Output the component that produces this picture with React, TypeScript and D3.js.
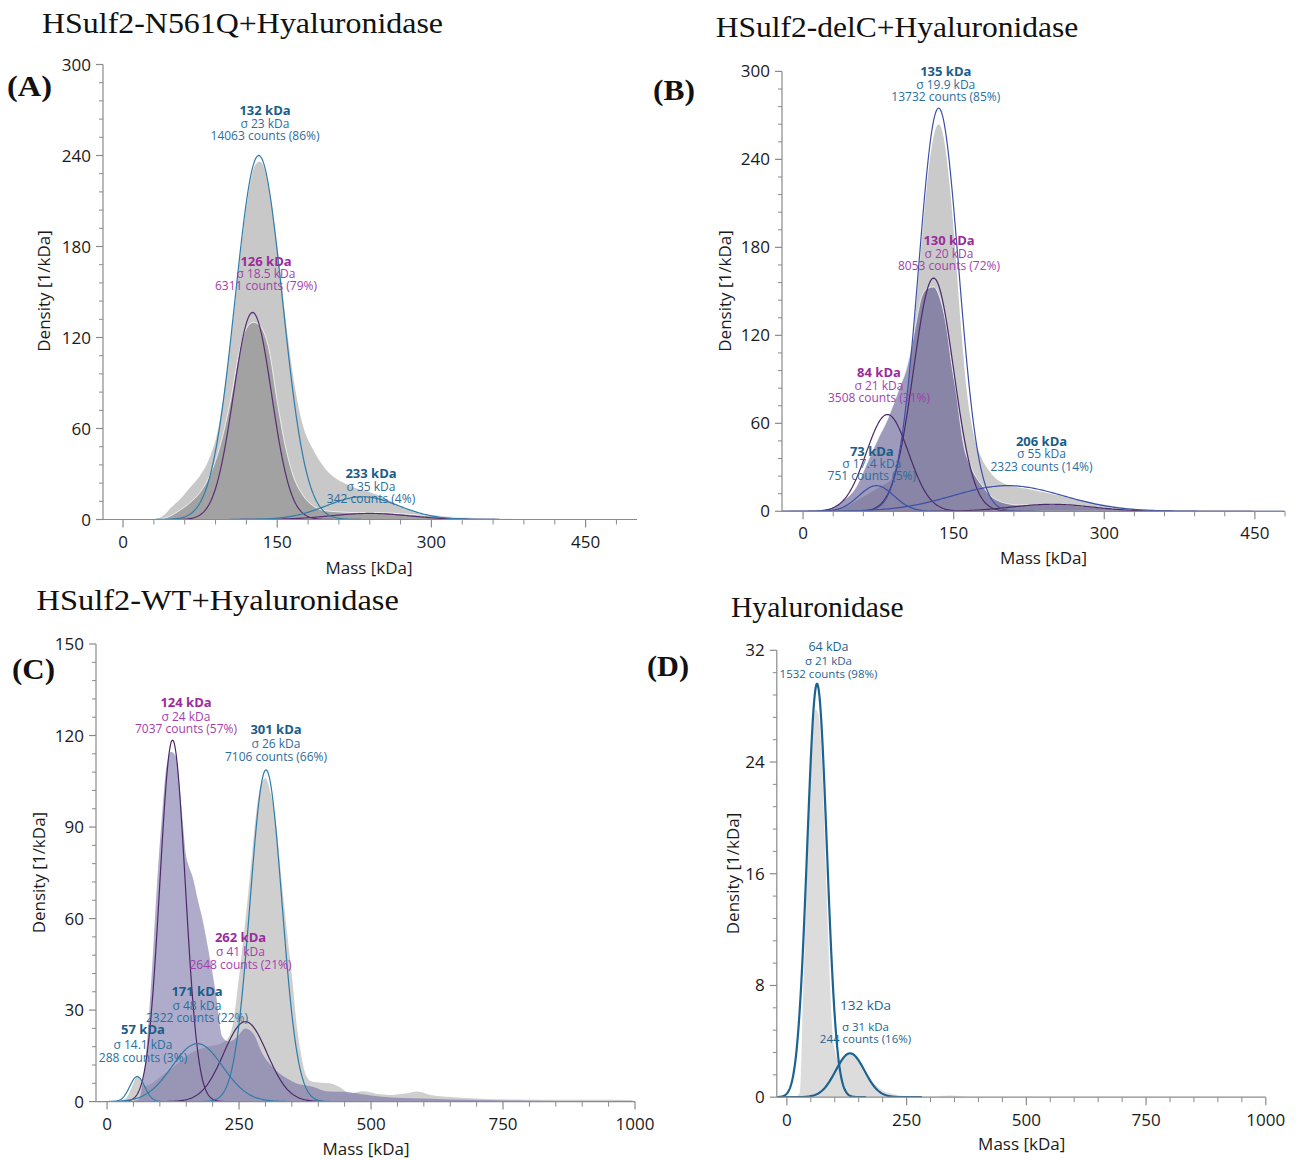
import React from 'react';
import * as d3 from 'd3';

// ---------------- data ----------------
const panelTitles = ['HSulf2-N561Q+Hyaluronidase', 'HSulf2-delC+Hyaluronidase', 'HSulf2-WT+Hyaluronidase', 'Hyaluronidase'];
const panelLetters = ['(A)', '(B)', '(C)', '(D)'];

const xTicksAB = [0, 150, 300, 450];
const yTicksAB = [0, 60, 120, 180, 240, 300];
const xTicksCD = [0, 250, 500, 750, 1000];
const yTicksC = [0, 30, 60, 90, 120, 150];
const yTicksD = [0, 8, 16, 24, 32];

// histograms: [mass kDa, density 1/kDa]
const histA_light: [number, number][] = [
  [25, 0], [33, 0.5], [40, 3], [47, 8], [55, 13], [65, 21], [75, 29], [85, 42], [92, 58], [100, 92], [107, 130],
  [115, 180], [122, 215], [128, 233], [133, 236], [138, 230], [145, 205], [152, 170], [160, 122], [167, 88], [175, 62],
  [185, 46], [195, 35], [205, 28], [215, 24], [225, 21], [240, 18], [255, 14], [270, 8.5], [285, 4.5], [300, 3],
  [320, 1.8], [345, 0.9], [380, 0.4], [420, 0],
];
const histA_dark: [number, number][] = [
  [35, 0], [45, 2], [55, 6], [65, 11], [75, 18], [85, 30], [95, 50], [105, 80], [113, 110], [120, 126], [127, 130],
  [134, 127], [142, 112], [150, 78], [158, 48], [166, 28], [175, 16], [185, 9], [195, 6], [210, 5], [230, 4.5],
  [250, 4.5], [270, 3.8], [290, 2.8], [310, 1.8], [340, 0.9], [380, 0.3], [420, 0],
];
const histB_gray: [number, number][] = [
  [15, 0], [30, 1], [45, 4], [58, 9], [70, 14], [80, 18], [88, 22], [96, 35], [103, 70], [110, 120], [117, 175],
  [123, 220], [129, 252], [135, 264], [140, 255], [146, 222], [151, 183], [157, 128], [163, 82], [170, 52], [178, 36],
  [186, 27], [200, 19], [220, 15.7], [240, 13], [260, 10], [285, 6.5], [305, 4], [325, 2], [350, 1], [390, 0.3], [430, 0],
];
const histB_purple: [number, number][] = [
  [10, 0], [20, 0.7], [30, 3], [40, 7.7], [48, 12], [54, 18], [60, 27], [67, 38], [75, 50], [83, 61], [90, 73],
  [97, 86], [102, 95], [108, 112], [113, 130], [118, 146], [124, 152], [130, 153], [136, 146], [143, 125], [148, 100],
  [153, 79], [157, 58], [160, 45], [166, 32], [173, 22.5], [180, 16], [186, 11], [195, 7], [205, 5], [215, 4.3],
  [230, 4.5], [250, 4.8], [270, 4], [290, 2.8], [305, 2], [330, 1], [360, 0.4], [400, 0],
];
const histC_gray: [number, number][] = [
  [20, 0], [35, 1], [45, 4], [52, 7], [58, 8.2], [64, 7], [70, 5], [80, 5.5], [100, 8], [130, 12], [160, 16], [190, 18],
  [215, 19], [230, 21], [240, 27], [248, 38], [256, 50], [266, 66], [275, 82], [282, 94], [290, 103], [300, 106],
  [310, 101], [320, 91], [332, 70], [345, 49], [352, 38], [358, 27], [367, 16], [377, 8.5], [389, 6.5], [405, 6.2],
  [421, 6], [441, 4.7], [460, 2.7], [486, 3.4], [510, 2.6], [536, 2.2], [568, 2.7], [587, 3.3], [612, 2.2], [650, 1.5],
  [707, 0.9], [770, 0.7], [865, 0.6], [928, 0.6], [991, 0.5], [1000, 0],
];
const histC_purple: [number, number][] = [
  [40, 0], [60, 0.8], [67, 6], [73, 14], [80, 30], [86, 46], [92, 64], [98, 80], [105, 96], [111, 108], [116, 113],
  [121, 114.7], [127, 114], [133, 110.9], [138, 102], [143, 92.3], [149, 81.4], [155, 77], [162, 73.7], [172, 66],
  [181, 59.5], [193, 48.6], [206, 35.5], [218, 21.3], [231, 19.6], [245, 21], [262, 24], [278, 22], [294, 15.8],
  [310, 12], [326, 9.3], [342, 7.5], [358, 6], [389, 4.9], [420, 3.3], [450, 3.2], [480, 2.5], [520, 1.6], [560, 1.2],
  [600, 1], [650, 0.7], [700, 0.5], [800, 0.3], [900, 0.2], [1000, 0],
];
const histD_gray: [number, number][] = [
  [15, 0], [26, 0.3], [33, 7.4], [40, 14.6], [47, 21.8], [54, 26.5], [60, 27.8], [66, 27.5], [72, 25.5], [78, 20.5],
  [84, 14.5], [89, 9.8], [95, 5.2], [102, 3.2], [110, 2.6], [120, 2.9], [134, 3.1], [145, 2.8], [158, 2], [172, 1.2],
  [185, 0.9], [199, 0.5], [216, 0.3], [250, 0.1], [300, 0.05], [340, 0.15], [380, 0],
];

// gaussian fits: [centre kDa, drawn width kDa, peak density]
const fitsA_blue: [number, number, number][] = [[132, 23, 240], [233, 35, 15]];
const fitsA_purple: [number, number, number][] = [[126, 18.5, 136.5], [240, 38, 4]];
const fitsB_blue: [number, number, number][] = [[135, 19.9, 275], [73, 17.4, 17.5], [204, 55, 17.5]];
const fitsB_purple: [number, number, number][] = [[84, 21, 66], [130, 20, 159], [248, 40, 4.8]];
const fitsC_blue: [number, number, number][] = [[57, 14.1, 8.2], [171, 48, 19], [301, 30, 108.7]];
const fitsC_purple: [number, number, number][] = [[124, 24, 118.5], [262, 41, 26.2]];
const fitsD_blue: [number, number, number][] = [[63, 20.5, 29.6], [132, 30, 3.14]];

// annotation texts
const labelsA = [
  { tone: 'blue', lines: ['132 kDa', 'σ 23 kDa', '14063 counts (86%)'] },
  { tone: 'purple', lines: ['126 kDa', 'σ 18.5 kDa', '6311 counts (79%)'] },
  { tone: 'blue', lines: ['233 kDa', 'σ 35 kDa', '342 counts (4%)'] },
];
const labelsB = [
  { tone: 'blue', lines: ['135 kDa', 'σ 19.9 kDa', '13732 counts (85%)'] },
  { tone: 'purple', lines: ['130 kDa', 'σ 20 kDa', '8053 counts (72%)'] },
  { tone: 'purple', lines: ['84 kDa', 'σ 21 kDa', '3508 counts (31%)'] },
  { tone: 'blue', lines: ['73 kDa', 'σ 17.4 kDa', '751 counts (5%)'] },
  { tone: 'blue', lines: ['206 kDa', 'σ 55 kDa', '2323 counts (14%)'] },
];
const labelsC = [
  { tone: 'purple', lines: ['124 kDa', 'σ 24 kDa', '7037 counts (57%)'] },
  { tone: 'blue', lines: ['301 kDa', 'σ 26 kDa', '7106 counts (66%)'] },
  { tone: 'purple', lines: ['262 kDa', 'σ 41 kDa', '2648 counts (21%)'] },
  { tone: 'blue', lines: ['171 kDa', 'σ 48 kDa', '2322 counts (22%)'] },
  { tone: 'blue', lines: ['57 kDa', 'σ 14.1 kDa', '288 counts (3%)'] },
];
const labelsD = [
  { tone: 'blueplain', lines: ['64 kDa', 'σ 21 kDa', '1532 counts (98%)'] },
  { tone: 'blueplain', lines: ['132 kDa', 'σ 31 kDa', '244 counts (16%)'] },
];

// ---------------- layout / style ----------------
const FONT = "'Open Sans', 'Noto Sans', sans-serif";
const SERIF = "'Liberation Serif', 'DejaVu Serif', serif";
const TXT_BLUE_B = '#1b5d8a';
const TXT_BLUE = '#2a6e9e';
const TXT_PURPLE_B = '#9a2c9c';
const TXT_PURPLE = '#a53eab';

type Fit = [number, number, number];
interface HistSpec { data: [number, number][]; fill: string; stroke?: string }
interface FitSpec { f: Fit; color: string; width: number }
interface LabelSpec { tone: string; lines: string[]; pos: number[] }

const panels = [
  {
    title: panelTitles[0], letter: panelLetters[0],
    titleX: 42, titleY: 33, titleW: 401, letterX: 7, letterY: 96, letterW: 45,
    xDomain: [-19.5, 500], xRange: [103, 637], yDomain: [0, 300], yRange: [519.5, 64.5],
    xTicks: xTicksAB, xMinor: 30, yTicks: yTicksAB, yMinor: 12,
    xTickY: 548, densX: 50, densY: 291, massX: 369, massY: 573.5,
    hists: [
      { data: histA_light, fill: '#c8c8c8' },
      { data: histA_dark, fill: 'rgba(100,100,100,0.38)', stroke: 'rgba(255,255,255,0.75)' },
    ] as HistSpec[],
    fits: [
      ...fitsA_purple.map((f) => ({ f, color: '#5a2e72', width: 1.2 })),
      ...fitsA_blue.map((f) => ({ f, color: '#2e7dab', width: 1.2 })),
    ] as FitSpec[],
    labels: labelsA.map((l, i) => ({ ...l, pos: [[265, 114.7, 127.6, 139.8], [266, 265.6, 278.2, 290.4], [371, 478.4, 490.8, 503.2]][i] })),
  },
  {
    title: panelTitles[1], letter: panelLetters[1],
    titleX: 715.7, titleY: 37, titleW: 362.6, letterX: 653, letterY: 100, letterW: 42,
    xDomain: [-21, 480], xRange: [782, 1285], yDomain: [0, 300], yRange: [511.3, 71.4],
    xTicks: xTicksAB, xMinor: 30, yTicks: yTicksAB, yMinor: 12,
    xTickY: 539, densX: 731, densY: 291, massX: 1043.5, massY: 564,
    hists: [
      { data: histB_gray, fill: '#cacaca' },
      { data: histB_purple, fill: 'rgba(92,86,142,0.6)', stroke: 'rgba(255,255,255,0.7)' },
    ] as HistSpec[],
    fits: [
      ...fitsB_purple.map((f) => ({ f, color: '#4c2a68', width: 1.2 })),
      ...fitsB_blue.map((f) => ({ f, color: '#3c50a8', width: 1.2 })),
    ] as FitSpec[],
    labels: labelsB.map((l, i) => ({ ...l, pos: [[945.8, 75.8, 88.8, 100.6], [949, 245.3, 257.9, 269.7], [879, 377.4, 389.6, 402], [871.8, 456.2, 468, 480.2], [1041.5, 445.8, 458, 470.6]][i] })),
  },
  {
    title: panelTitles[2], letter: panelLetters[2],
    titleX: 36.5, titleY: 610.3, titleW: 362.3, letterX: 12, letterY: 679, letterW: 43,
    xDomain: [-21, 1000], xRange: [96, 635], yDomain: [0, 150], yRange: [1101.6, 644],
    xTicks: xTicksCD, xMinor: 50, yTicks: yTicksC, yMinor: 6,
    xTickY: 1130, densX: 44.5, densY: 872.6, massX: 366, massY: 1155,
    hists: [
      { data: histC_gray, fill: '#cfcfcf' },
      { data: histC_purple, fill: 'rgba(110,104,160,0.55)' },
    ] as HistSpec[],
    fits: [
      ...fitsC_purple.map((f) => ({ f, color: '#4c2a68', width: 1.2 })),
      ...fitsC_blue.map((f) => ({ f, color: '#2c7ca8', width: 1.2 })),
    ] as FitSpec[],
    labels: labelsC.map((l, i) => ({ ...l, pos: [[186, 706.5, 721.3, 733.3], [276, 734.3, 748.3, 761.3], [240.5, 941.8, 956.2, 968.7], [197, 995.5, 1009.9, 1022.3], [143, 1034.3, 1049.1, 1061.7]][i] })),
  },
  {
    title: panelTitles[3], letter: panelLetters[3],
    titleX: 731, titleY: 617, titleW: 172.6, letterX: 647, letterY: 676, letterW: 42,
    xDomain: [-21, 1000], xRange: [776.8, 1265.8], yDomain: [0, 32], yRange: [1097.2, 650.3],
    xTicks: xTicksCD, xMinor: 50, yTicks: yTicksD, yMinor: 1.6,
    xTickY: 1126, densX: 739, densY: 873.5, massX: 1021.7, massY: 1150,
    hists: [{ data: histD_gray, fill: '#dcdcdc', stroke: 'rgba(255,255,255,0.8)' }] as HistSpec[],
    fits: fitsD_blue.map((f) => ({ f, color: '#1b6391', width: 2.2 })) as FitSpec[],
    labels: labelsD.map((l, i) => ({ ...l, pos: [[828.5, 651.4, 665.1, 677.7], [865.5, 1010.3, 1030.6, 1042.5]][i] })),
  },
];

function fitPoints(f: Fit, lo: number, hi: number): [number, number][] {
  const [mu, w, peak] = f;
  const a = Math.max(lo, mu - 5 * w);
  const b = Math.min(hi, mu + 5 * w);
  return d3.range(241).map((i) => {
    const m = a + ((b - a) * i) / 240;
    return [m, peak * Math.exp(-0.5 * ((m - mu) / w) ** 2)] as [number, number];
  });
}

function Panel({ p, idx }: { p: (typeof panels)[number]; idx: number }) {
  const x = d3.scaleLinear().domain(p.xDomain).range(p.xRange);
  const y = d3.scaleLinear().domain(p.yDomain).range(p.yRange);
  const area = d3
    .area<[number, number]>()
    .x((d) => x(d[0]))
    .y0(y(0))
    .y1((d) => y(d[1]))
    .curve(d3.curveMonotoneX);
  const line = d3
    .line<[number, number]>()
    .x((d) => x(d[0]))
    .y((d) => y(d[1]))
    .curve(d3.curveLinear);
  const clipId = `clip-${idx}`;
  const y0 = y(0);
  const ax = p.xRange[0];
  const xMinorTicks = d3.range(0, p.xDomain[1] + 0.01, p.xMinor).filter((v) => !p.xTicks.includes(v));
  const yMinorTicks = d3.range(0, p.yDomain[1] + 0.01, p.yMinor).filter((v) => !p.yTicks.some((t) => Math.abs(t - v) < 1e-6));
  const axisColor = '#8a8a8a';

  return (
    <g>
      <defs>
        <clipPath id={clipId}>
          <rect x={p.xRange[0]} y={p.yRange[1] - 30} width={p.xRange[1] - p.xRange[0]} height={y0 - p.yRange[1] + 30} />
        </clipPath>
      </defs>
      <text x={p.titleX} y={p.titleY} fontFamily={SERIF} fontSize={30} fill="#111" textLength={p.titleW} lengthAdjust="spacingAndGlyphs">
        {p.title}
      </text>
      <text x={p.letterX} y={p.letterY} fontFamily={SERIF} fontSize={29} fontWeight={700} fill="#111" textLength={p.letterW} lengthAdjust="spacingAndGlyphs">
        {p.letter}
      </text>
      <g clipPath={`url(#${clipId})`}>
        {p.hists.map((h, i) => (
          <path key={i} d={area(h.data) || ''} fill={h.fill} stroke={h.stroke || 'none'} strokeWidth={1} />
        ))}
        {p.fits.map((f, i) => (
          <path key={i} d={line(fitPoints(f.f, p.xDomain[0], p.xDomain[1])) || ''} fill="none" stroke={f.color} strokeWidth={f.width} />
        ))}
      </g>
      {/* axes */}
      <line x1={ax} x2={ax} y1={y(p.yDomain[1])} y2={y0} stroke={axisColor} strokeWidth={1.2} />
      <line x1={ax} x2={p.xRange[1]} y1={y0} y2={y0} stroke={axisColor} strokeWidth={1.2} />
      {p.yTicks.map((t) => (
        <g key={`yt${t}`}>
          <line x1={ax - 7} x2={ax} y1={y(t)} y2={y(t)} stroke={axisColor} strokeWidth={1.2} />
          <text x={ax - 12} y={y(t) + 6} textAnchor="end" fontFamily={FONT} fontSize={17} fill="#1a1a1a">
            {t}
          </text>
        </g>
      ))}
      {yMinorTicks.map((t) => (
        <line key={`ym${t}`} x1={ax - 4} x2={ax} y1={y(t)} y2={y(t)} stroke={axisColor} strokeWidth={1} />
      ))}
      {p.xTicks.map((t) => (
        <g key={`xt${t}`}>
          <line x1={x(t)} x2={x(t)} y1={y0} y2={y0 + 8} stroke={axisColor} strokeWidth={1.2} />
          <text x={x(t)} y={p.xTickY} textAnchor="middle" fontFamily={FONT} fontSize={17} fill="#1a1a1a">
            {t}
          </text>
        </g>
      ))}
      {xMinorTicks.map((t) => (
        <line key={`xm${t}`} x1={x(t)} x2={x(t)} y1={y0} y2={y0 + 5} stroke={axisColor} strokeWidth={1} />
      ))}
      <text x={p.massX} y={p.massY} textAnchor="middle" fontFamily={FONT} fontSize={17} fill="#1a1a1a">
        Mass [kDa]
      </text>
      <text transform={`translate(${p.densX},${p.densY}) rotate(-90)`} textAnchor="middle" fontFamily={FONT} fontSize={17} fill="#1a1a1a">
        Density [1/kDa]
      </text>
      {(p.labels as LabelSpec[]).map((l, i) => {
        const plain = l.tone === 'blueplain';
        const isBlue = l.tone !== 'purple';
        const c1 = plain ? '#1f6590' : isBlue ? TXT_BLUE_B : TXT_PURPLE_B;
        const c2 = plain ? '#1f6590' : isBlue ? TXT_BLUE : TXT_PURPLE;
        return (
          <g key={`lab${i}`} fontFamily={FONT} textAnchor="middle">
            <text x={l.pos[0]} y={l.pos[1]} fontSize={plain ? (i === 1 ? 13.5 : 12.5) : 13} fontWeight={plain ? 400 : 700} fill={c1}>
              {l.lines[0]}
            </text>
            <text x={l.pos[0]} y={l.pos[2]} fontSize={plain ? 11.5 : 12} fill={c2}>
              {l.lines[1]}
            </text>
            <text x={l.pos[0]} y={l.pos[3]} fontSize={plain ? 11.5 : 12} fill={c2}>
              {l.lines[2]}
            </text>
          </g>
        );
      })}
    </g>
  );
}

export default function App() {
  return (
    <svg
      width={1302}
      height={1160}
      viewBox="0 0 1302 1160"
      style={{ position: 'absolute', left: 0, top: 0, background: '#fff', display: 'block' }}
    >
      <rect x={0} y={0} width={1302} height={1160} fill="#fff" />
      {panels.map((p, i) => (
        <Panel key={i} p={p} idx={i} />
      ))}
    </svg>
  );
}
